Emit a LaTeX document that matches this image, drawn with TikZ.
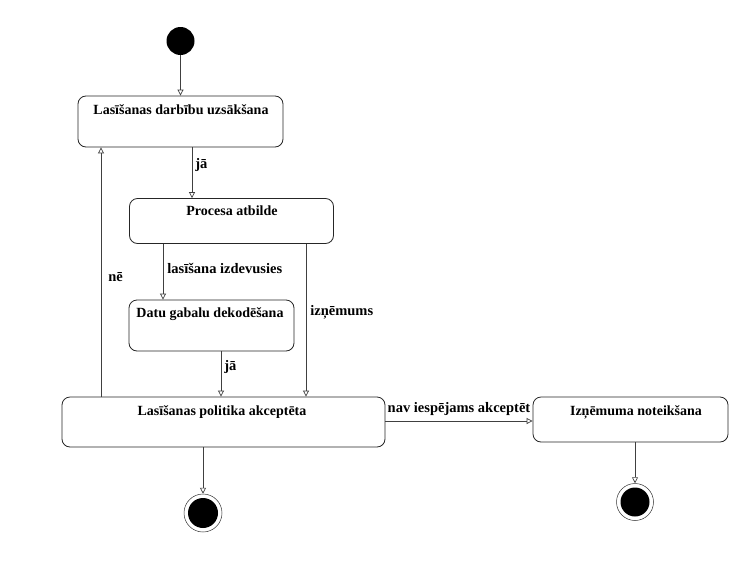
\documentclass[tikz,border=0pt]{standalone}
\usepackage{fontspec}
\setmainfont{Liberation Serif}
\usetikzlibrary{arrows.meta}
\begin{document}
\begin{tikzpicture}[x=1pt,y=-1pt,
  state/.style={draw=black!85, line width=0.8pt, rounded corners=8pt, inner sep=0pt},
  stxt/.style={font=\rmfamily\bfseries\fontsize{14}{16}\selectfont, inner sep=0pt, anchor=center},
  lbl/.style={font=\rmfamily\bfseries\fontsize{14.5}{16}\selectfont, inner sep=0pt},
  flow/.style={draw=black!75, line width=0.7pt, -{Triangle[open, length=6pt, width=6pt]}}]
\useasboundingbox (0,0) rectangle (730,562);
\fill[white] (0,0) rectangle (730,562);

% initial pseudo-state
\node[circle, fill=black, minimum size=28pt, inner sep=0pt] (init) at (180.5,41) {};

% states
\node[state, minimum width=205pt, minimum height=51pt] (s1) at (180.5,121.5) {};
\node[stxt] (t1) at (181,110) {Lasīšanas darbību uzsākšana};

\node[state, minimum width=204pt, minimum height=45pt] (s2) at (231.5,221) {};
\node[stxt] (t2) at (232,211) {Procesa atbilde};

\node[state, minimum width=165pt, minimum height=51pt] (s3) at (211.5,325.5) {};
\node[stxt] (t3) at (210,314) {Datu gabalu dekodēšana};

\node[state, minimum width=323pt, minimum height=50pt] (s4) at (223.5,422) {};
\node[stxt] (t4) at (222,412) {Lasīšanas politika akceptēta};

\node[state, minimum width=195pt, minimum height=45pt] (s5) at (630.5,419.5) {};
\node[stxt] (t5) at (636,412) {Izņēmuma noteikšana};

% final pseudo-states
\node[circle, draw=black!80, line width=0.5pt, minimum size=38pt, inner sep=0pt] (fin1) at (203,513) {};
\node[circle, fill=black, minimum size=30pt, inner sep=0pt] (fin1c) at (fin1) {};
\node[circle, draw=black!80, line width=0.5pt, minimum size=37pt, inner sep=0pt] (fin2) at (635,502) {};
\node[circle, fill=black, minimum size=29pt, inner sep=0pt] (fin2c) at (fin2) {};

% vertical positions of the connectors
\coordinate (xa) at (192,0);
\coordinate (xb) at (163,0);
\coordinate (xc) at (306,0);
\coordinate (xd) at (221,0);
\coordinate (xe) at (101,0);
\coordinate (yh) at (0,421);

% transitions
\draw[flow] (init) -- (s1);
\draw[flow] (s1.south -| xa) -- node[lbl, right=3pt, pos=0.35] (l1) {jā} (s2.north -| xa);
\draw[flow] (s2.south -| xb) -- node[lbl, anchor=west, xshift=4pt, pos=0.45] (l2) {lasīšana izdevusies} (s3.north -| xb);
\draw[flow] (s2.south -| xc) -- node[lbl, anchor=west, xshift=4pt, pos=0.45] (l3) {izņēmums} (s4.north -| xc);
\draw[flow] (s3.south -| xd) -- node[lbl, right=3pt, pos=0.35] (l4) {jā} (s4.north -| xd);
\draw[flow] (s4.north -| xe) -- node[lbl, right=7pt, pos=0.48] (l5) {nē} (s1.south -| xe);
\draw[flow] (s4.south -| fin1) -- (fin1);
\draw[flow] (s4.east |- yh) -- node[lbl, above=5pt] (l6) {nav iespējams akceptēt} (s5.west |- yh);
\draw[flow] (s5.south -| fin2) -- (fin2);
\end{tikzpicture}
\end{document}
